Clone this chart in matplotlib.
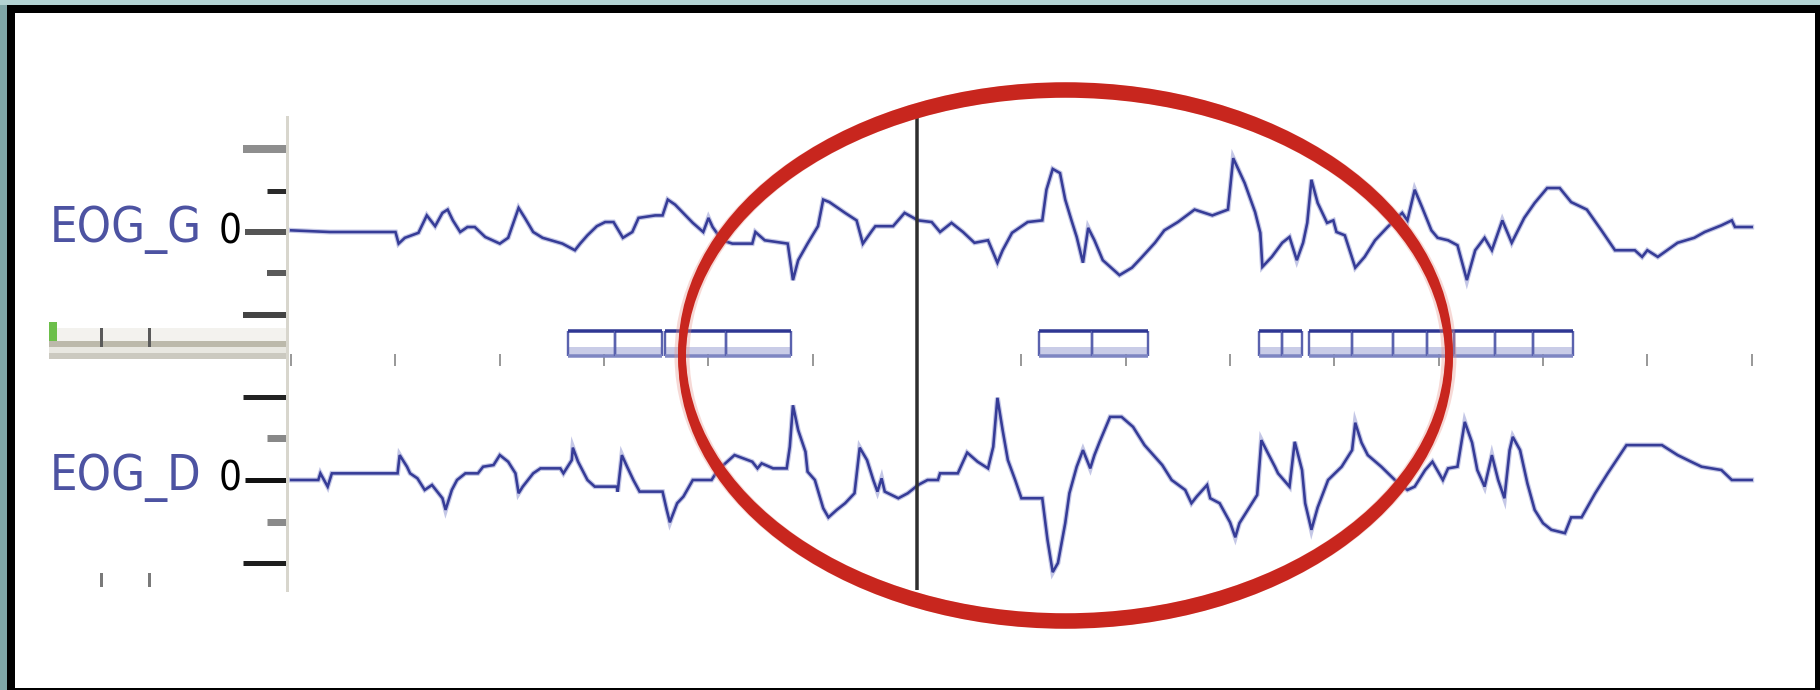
import matplotlib
matplotlib.use('Agg')
from matplotlib import pyplot as plt
from matplotlib import font_manager
from matplotlib.patches import Rectangle, Ellipse

# EOG gauche (G) : temps en s, amplitude en uV
g_t = [0.00, 0.37, 1.00, 1.03, 1.09, 1.22, 1.30, 1.38, 1.45, 1.50,
       1.55, 1.62, 1.69, 1.76, 1.86, 2.00, 2.08, 2.18, 2.24, 2.32,
       2.41, 2.60, 2.72, 2.77, 2.84, 2.93, 3.01, 3.09, 3.18, 3.27,
       3.33, 3.49, 3.56, 3.61, 3.68, 3.78, 3.85, 3.95, 4.00, 4.04,
       4.13, 4.23, 4.42, 4.45, 4.54, 4.76, 4.81, 4.86, 4.95, 5.05,
       5.10, 5.16, 5.31, 5.42, 5.48, 5.57, 5.60, 5.77, 5.88, 6.01,
       6.14, 6.22, 6.33, 6.44, 6.55, 6.68, 6.77, 6.82, 6.91, 7.06,
       7.20, 7.24, 7.30, 7.37, 7.42, 7.48, 7.53, 7.59, 7.64, 7.70,
       7.78, 7.94, 8.06, 8.15, 8.28, 8.37, 8.50, 8.66, 8.83, 8.98,
       9.03, 9.07, 9.14, 9.24, 9.29, 9.31, 9.40, 9.50, 9.57, 9.64,
       9.70, 9.74, 9.78, 9.84, 9.93, 9.99, 10.02, 10.10, 10.20, 10.29,
       10.39, 10.51, 10.65, 10.70, 10.77, 10.84, 10.93, 10.99, 11.09, 11.18,
       11.27, 11.35, 11.44, 11.51, 11.61, 11.70, 11.82, 11.92, 12.04, 12.16,
       12.27, 12.42, 12.56, 12.69, 12.88, 12.95, 13.00, 13.10, 13.19, 13.29,
       13.45, 13.55, 13.71, 13.81, 13.84, 14.00]
g_v = [2, 0, 0, -14, -7, -1, 20, 7, 23, 27,
       14, 0, 6, 6, -6, -14, -7, 29, 17, 0,
       -7, -14, -22, -14, -4, 7, 12, 12, -7, 0,
       17, 20, 20, 39, 33, 20, 11, 0, 17, 6,
       -10, -14, -14, 0, -10, -14, -58, -34, -14, 7,
       39, 36, 23, 14, -14, 2, 7, 7, 23, 14,
       12, 0, 11, 0, -13, -10, -37, -22, -1, 12,
       14, 51, 76, 71, 39, 14, -6, -37, 5, -10,
       -34, -52, -43, -31, -13, 2, 12, 27, 20, 27,
       89, 78, 59, 24, -1, -42, -30, -13, -6, -34,
       -13, 11, 63, 35, 11, 14, 0, -4, -43, -30,
       -10, 6, 23, 14, 51, 30, 2, -7, -10, -16,
       -58, -22, -7, -22, 14, -13, 17, 35, 53, 53,
       36, 27, 2, -22, -22, -30, -22, -30, -22, -13,
       -7, 0, 8, 14, 6, 6]

# EOG droit (D)
d_t = [0.00, 0.26, 0.28, 0.35, 0.39, 1.02, 1.04, 1.11, 1.14, 1.21,
       1.28, 1.35, 1.45, 1.48, 1.54, 1.59, 1.67, 1.79, 1.84, 1.94,
       2.00, 2.08, 2.15, 2.18, 2.22, 2.32, 2.39, 2.58, 2.61, 2.69,
       2.70, 2.75, 2.84, 2.91, 3.12, 3.13, 3.17, 3.22, 3.28, 3.34,
       3.56, 3.60, 3.63, 3.70, 3.76, 3.85, 4.03, 4.09, 4.25, 4.42,
       4.47, 4.51, 4.62, 4.75, 4.78, 4.81, 4.86, 4.93, 4.95, 5.02,
       5.10, 5.15, 5.23, 5.31, 5.40, 5.45, 5.52, 5.58, 5.62, 5.66,
       5.69, 5.82, 5.91, 6.01, 6.10, 6.20, 6.22, 6.39, 6.48, 6.58,
       6.68, 6.73, 6.77, 6.82, 6.87, 6.94, 7.00, 7.20, 7.25, 7.30,
       7.35, 7.42, 7.46, 7.53, 7.59, 7.66, 7.70, 7.75, 7.85, 7.96,
       8.07, 8.18, 8.35, 8.44, 8.57, 8.63, 8.68, 8.78, 8.81, 8.90,
       9.00, 9.05, 9.09, 9.21, 9.26, 9.30, 9.36, 9.43, 9.46, 9.57,
       9.62, 9.69, 9.72, 9.78, 9.84, 9.94, 10.07, 10.17, 10.20, 10.26,
       10.32, 10.45, 10.58, 10.70, 10.77, 10.87, 10.94, 11.04, 11.09, 11.18,
       11.25, 11.32, 11.37, 11.44, 11.51, 11.57, 11.63, 11.68, 11.71, 11.78,
       11.85, 11.92, 12.00, 12.08, 12.21, 12.27, 12.37, 12.50, 12.62, 12.80,
       13.14, 13.29, 13.42, 13.52, 13.71, 13.81, 14.00]
d_v = [0, 0, 8, -8, 8, 8, 30, 16, 8, 2,
       -12, -6, -22, -36, -12, 0, 8, 8, 16, 18,
       30, 22, 8, -16, -8, 8, 14, 14, 8, 24,
       39, 22, 0, -8, -8, -14, 30, 16, 0, -14,
       -14, -36, -51, -28, -20, 0, 0, 12, 30, 22,
       14, 20, 14, 14, 40, 90, 60, 34, 10, 0,
       -34, -45, -36, -28, -16, 39, 24, 0, -14, 2,
       -14, -22, -16, -6, 0, 0, 8, 8, 33, 22,
       14, 40, 99, 60, 24, 0, -22, -22, -72, -111,
       -100, -52, -16, 16, 36, 14, 30, 46, 76, 76,
       64, 42, 18, 0, -12, -28, -20, -6, -22, -28,
       -51, -69, -52, -28, -18, 48, 33, 16, 8, -8,
       46, 12, -28, -60, -33, 0, 16, 36, 69, 45,
       30, 16, 0, -12, -8, 12, 22, 0, 14, 16,
       70, 45, 12, -8, 30, 0, -22, 36, 52, 36,
       -4, -36, -52, -60, -64, -45, -45, -16, 8, 42,
       42, 30, 22, 16, 12, 0, 0]

# epoques marquees (debut, fin) en s
ev_start = [2.65, 3.10, 3.58, 4.17, 7.17, 7.68, 9.28, 9.50,
            9.76, 10.17, 10.56, 10.89, 11.15, 11.54, 11.90]
ev_end = [3.10, 3.555, 4.17, 4.79, 7.68, 8.21, 9.50, 9.69,
          10.17, 10.56, 10.89, 11.15, 11.54, 11.90, 12.29]

channels = ['EOG_G', 'EOG_D']
y_ticks = [-100, -50, 0, 50, 100]
t_ticks = list(range(0, 15))
cursor_t = 6.0

W, H = 1820, 690
PT = 0.72  # points par pixel a 100 dpi

fig = plt.figure(figsize=(W / 100, H / 100), dpi=100, facecolor='white')


def fx(px):
    return px / W


def fy(py):
    return 1 - py / H


def frect(x0, y0, x1, y1, color, z=-1):
    fig.add_artist(Rectangle((fx(x0), fy(y1)), (x1 - x0) / W, (y1 - y0) / H,
                             transform=fig.transFigure, facecolor=color,
                             edgecolor='none', zorder=z))


def new_axes(top, bottom, left=287, right=1760):
    ax = fig.add_axes([fx(left), fy(bottom), (right - left) / W, (bottom - top) / H])
    ax.set_facecolor('none')
    ax.set_xlim(-0.04, 14.08)
    for s in ['top', 'right', 'bottom']:
        ax.spines[s].set_visible(False)
    ax.spines['left'].set_color('#d8d6cd')
    ax.spines['left'].set_linewidth(3 * PT)
    ax.set_xticks([])
    return ax


# cadre
frect(0, 0, 7, H, '#7fa6a7')
frect(0, 0, W, 5, '#b3d3d3')
frect(7, 5, 15, H, 'black')
frect(7, 5, W, 13, 'black')
frect(1815, 5, W, H, 'black')
frect(7, 688, W, H, 'black')

# police etroite si possible
names = {f.name for f in font_manager.fontManager.ttflist}
if 'Liberation Sans Narrow' in names:
    lab_font = dict(family='Liberation Sans Narrow', size=40)
    zero_font = dict(family='Liberation Sans Narrow', size=32)
else:
    lab_font = dict(family='DejaVu Sans', stretch='condensed', size=35)
    zero_font = dict(family='DejaVu Sans', stretch='condensed', size=29)

ax_g = new_axes(117, 328)
ax_ev = new_axes(328, 366)
ax_d = new_axes(366, 590)
ax_g.set_ylim(-115.7, 138.6)
ax_d.set_ylim(-132.5, 137.3)
ax_ev.set_ylim(0, 1)
ax_ev.set_yticks([])

g_style = [(44, 6, '#444444'), (20, 6, '#5a5a5a'), (42, 6, '#555555'),
           (20, 5, '#2a2a2a'), (44, 8, '#8e8e8e')]
d_style = [(44, 5, '#1e1e1e'), (20, 7, '#8a8a8a'), (42, 5, '#111111'),
           (20, 7, '#888888'), (44, 5, '#222222')]

for ax, t, v, style, name, zero_y in [(ax_g, g_t, g_v, g_style, channels[0], 230),
                                      (ax_d, d_t, d_v, d_style, channels[1], 478)]:
    ax.plot(t, v, color='#c4c7e6', lw=5 * PT, solid_joinstyle='miter')
    ax.plot(t, v, color='#363c97', lw=2.6 * PT, solid_joinstyle='miter')
    ax.set_yticks(y_ticks)
    ax.set_yticklabels([])
    for tk, (ln, th, c) in zip(ax.yaxis.get_major_ticks(), style):
        tk.tick1line.set_markersize(ln * PT)
        tk.tick1line.set_markeredgewidth(th * PT)
        tk.tick1line.set_markeredgecolor(c)
        tk.tick2line.set_visible(False)
    ax.text(-0.031, 0, '0', transform=ax.get_yaxis_transform(), ha='right',
            va='center', color='black', **zero_font)
    # nom de voie dans la marge gauche
    fig.text(fx(50), fy(zero_y), name, color='#4d53a2', ha='left', va='center',
             **lab_font)
    ax.axvline(cursor_t, color='#2e2e2e', lw=3.5 * PT, zorder=3)

# bande des epoques
for s, e in zip(ev_start, ev_end):
    ax_ev.add_patch(Rectangle((s, 0.30), e - s, 0.19, facecolor='#c9cce7',
                              edgecolor='none'))
    ax_ev.vlines([s, e], 0.276, 0.934, color='#5a62ae', lw=2.4 * PT)
    ax_ev.hlines(0.934, s, e, color='#2f3793', lw=3.5 * PT)
    ax_ev.hlines(0.276, s, e, color='#7e86c2', lw=3.5 * PT)
ax_ev.set_xticks(t_ticks)
ax_ev.set_xticklabels([])
ax_ev.tick_params(axis='x', direction='in', length=12 * PT, width=2 * PT,
                  color='#9a9a9a')
ax_ev.axvline(cursor_t, color='#2e2e2e', lw=3.5 * PT, zorder=3)

# barre de separation a gauche
frect(49, 328, 286, 341, '#f3f2ee')
frect(49, 341, 286, 347, '#bcb9ab')
frect(49, 347, 286, 353, '#e8e7e1')
frect(49, 353, 286, 359, '#cbc9c0')
frect(49, 322, 57, 341, '#6cbf4a')
for x in [100, 148]:
    frect(x, 328, x + 3, 347, '#5a5a5a')
    frect(x, 573, x + 3, 587, '#7a7a7a')

# ellipse rouge
fig.add_artist(Ellipse((fx(1065.5), fy(355.5)), 767 / W, 531 / H,
                       transform=fig.transFigure, fill=False,
                       edgecolor='#e8948a', lw=15 * PT, alpha=0.35, zorder=5))
for dy in [-4, 0, 4]:
    fig.add_artist(Ellipse((fx(1065.5), fy(355.5 + dy)), 767 / W, 531 / H,
                           transform=fig.transFigure, fill=False,
                           edgecolor='#c8261e', lw=7.5 * PT, zorder=6))

fig.savefig('out.png', dpi=100, facecolor='white')
